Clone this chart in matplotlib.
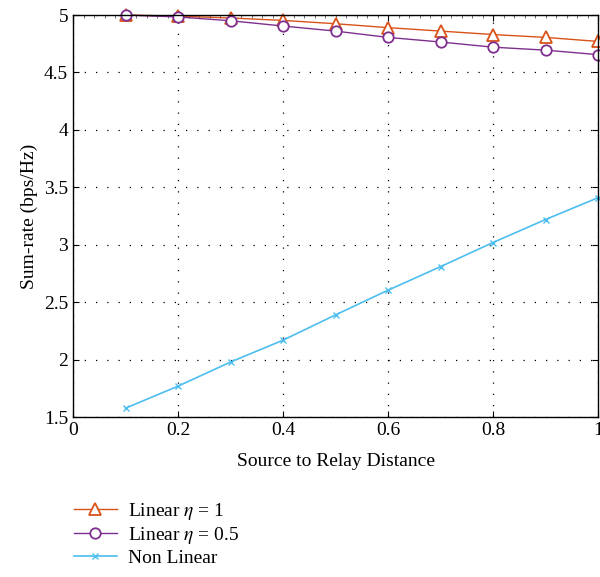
import numpy as np
import matplotlib.pyplot as plt
from matplotlib.ticker import AutoMinorLocator

plt.rcParams['font.family'] = ['Liberation Serif', 'DejaVu Serif']
plt.rcParams['mathtext.fontset'] = 'stix'

distance = [0.1, 0.2, 0.3, 0.4, 0.5, 0.6, 0.7, 0.8, 0.9, 1.0]
linear_eta1 = [5.0, 4.99, 4.974, 4.953, 4.924, 4.89, 4.86, 4.83, 4.805, 4.77]
linear_eta05 = [5.0, 4.983, 4.95, 4.904, 4.86, 4.805, 4.765, 4.72, 4.694, 4.655]
non_linear = [1.578, 1.77, 1.98, 2.17, 2.39, 2.605, 2.81, 3.02, 3.22, 3.41]

fig = plt.figure(figsize=(6, 5.77), dpi=100)
ax = fig.add_axes([0.1217, 0.277, 0.875, 0.697])

l1, = ax.plot(distance, linear_eta1, color='#D95319', marker='^', markersize=8,
              markerfacecolor='white', markeredgewidth=1.3, linewidth=1.0, clip_on=False,
              label=r'Linear $\eta$ = 1')
l2, = ax.plot(distance, linear_eta05, color='#7E2F8E', marker='o', markersize=7.5,
              markerfacecolor='white', markeredgewidth=1.3, linewidth=1.0, clip_on=False,
              label=r'Linear $\eta$ = 0.5')
l3, = ax.plot(distance, non_linear, color='#4DBEEE', marker='x', markersize=5,
              markeredgewidth=1.0, linewidth=1.2, clip_on=False, label='Non Linear')

ax.set_xlim(0, 1)
ax.set_ylim(1.5, 5)
ax.set_xticks([0, 0.2, 0.4, 0.6, 0.8, 1])
ax.set_xticklabels(['0', '0.2', '0.4', '0.6', '0.8', '1'])
ax.set_yticks([1.5, 2, 2.5, 3, 3.5, 4, 4.5, 5])
ax.set_yticklabels(['1.5', '2', '2.5', '3', '3.5', '4', '4.5', '5'])
ax.xaxis.set_minor_locator(AutoMinorLocator(10))
ax.tick_params(which='both', direction='in', top=True, right=True, labelsize=14)
ax.tick_params(which='major', length=4)
ax.tick_params(which='minor', length=2, bottom=False, color='#555555')
ax.grid(True, linestyle=(0, (1, 8)), color='black', linewidth=0.9)
for s in ax.spines.values():
    s.set_linewidth(1.0)

ax.set_xlabel('Source to Relay Distance', fontsize=14, labelpad=10)
ax.set_ylabel('Sum-rate (bps/Hz)', fontsize=14)

fig.legend(handles=[l1, l2, l3], loc='upper left', bbox_to_anchor=(0.11, 0.145),
           frameon=False, fontsize=14, handlelength=2.2, handletextpad=0.6,
           labelspacing=0.15, borderaxespad=0)

fig.savefig('out.png', dpi=100)
